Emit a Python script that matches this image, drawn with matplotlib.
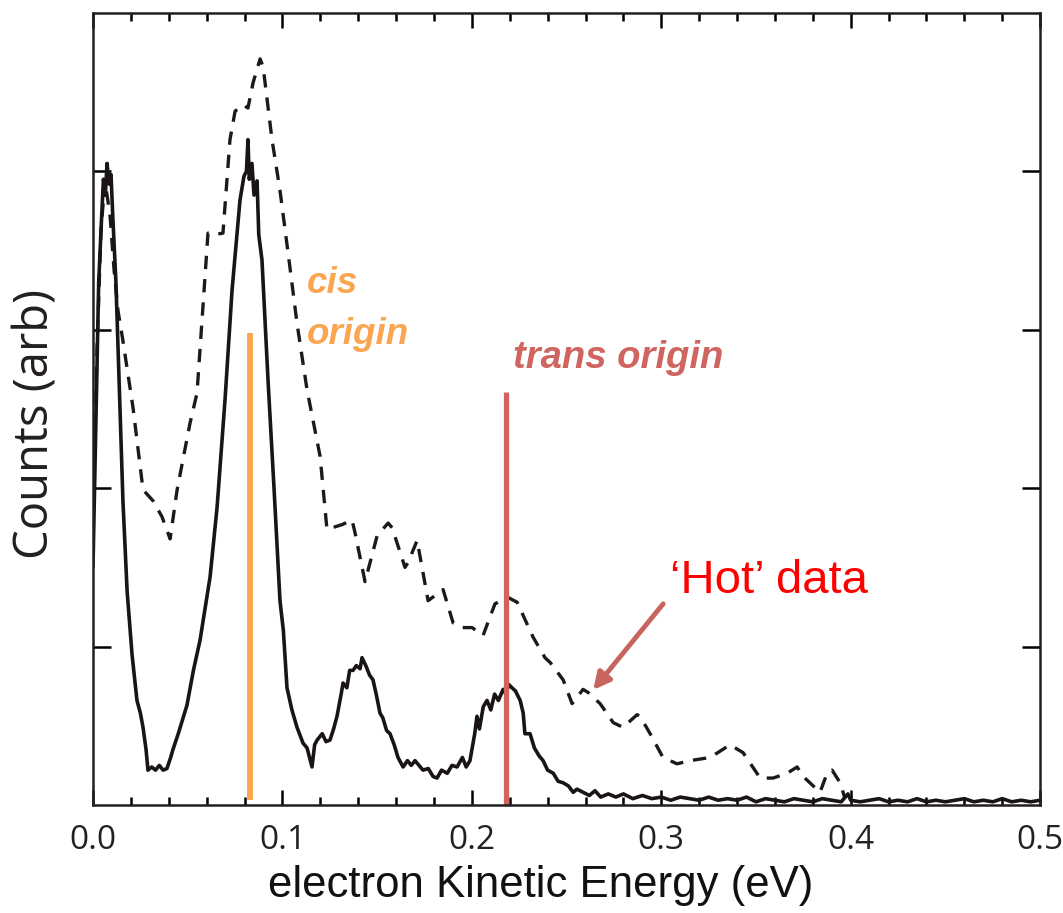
import numpy as np
import matplotlib
matplotlib.use("Agg")
import matplotlib.pyplot as plt

# ---- data ----
# solid trace (cold data)
solid_x = [0.000, 0.002, 0.003, 0.0045, 0.0055, 0.0065, 0.0074, 0.0085, 0.0095, 0.0105,
           0.0121, 0.014, 0.0158, 0.018, 0.0206, 0.0232, 0.025, 0.0264, 0.028, 0.029,
           0.031, 0.033, 0.035, 0.037, 0.039, 0.041, 0.0422, 0.045, 0.0496, 0.053,
           0.0565, 0.0618, 0.0655, 0.0697, 0.0734, 0.0776, 0.0797, 0.081, 0.0818, 0.0825,
           0.0839, 0.085, 0.0866, 0.0875, 0.0892, 0.0924, 0.0956, 0.0987, 0.1005, 0.1024,
           0.105, 0.1077, 0.1109, 0.113, 0.1156, 0.117, 0.1183, 0.121, 0.123, 0.1251,
           0.127, 0.1288, 0.131, 0.132, 0.134, 0.1355, 0.1373, 0.139, 0.141, 0.142,
           0.144, 0.146, 0.1478, 0.1495, 0.1515, 0.153, 0.155, 0.1568, 0.159, 0.161,
           0.1637, 0.166, 0.168, 0.170, 0.1742, 0.177, 0.1795, 0.1816, 0.184, 0.187,
           0.1895, 0.1922, 0.195, 0.197, 0.199, 0.2015, 0.2027, 0.204, 0.206, 0.208,
           0.210, 0.212, 0.214, 0.2165, 0.218, 0.2195, 0.2212, 0.223, 0.2255, 0.2271,
           0.228, 0.2307, 0.233, 0.2355, 0.2376, 0.240, 0.243, 0.2455, 0.2482, 0.251,
           0.2535, 0.2555, 0.2587, 0.262, 0.265, 0.268, 0.272, 0.276, 0.280, 0.285,
           0.290, 0.295, 0.300, 0.305, 0.310, 0.315, 0.320, 0.325, 0.330, 0.335,
           0.340, 0.345, 0.350, 0.355, 0.360, 0.365, 0.370, 0.375, 0.380, 0.385,
           0.390, 0.395, 0.3985, 0.400, 0.405, 0.410, 0.415, 0.420, 0.425, 0.430,
           0.435, 0.440, 0.445, 0.450, 0.455, 0.460, 0.465, 0.470, 0.475, 0.480,
           0.485, 0.490, 0.495, 0.500]
solid_y = [1.51, 2.70, 3.30, 3.70, 3.95, 3.85, 4.05, 3.92, 3.98, 3.70,
           3.30, 2.60, 1.92, 1.35, 0.95, 0.66, 0.58, 0.49, 0.35, 0.22,
           0.24, 0.22, 0.25, 0.22, 0.23, 0.30, 0.35, 0.45, 0.63, 0.85,
           1.04, 1.44, 1.88, 2.56, 3.25, 3.82, 3.97, 4.00, 4.20, 3.95,
           4.05, 3.85, 3.94, 3.60, 3.44, 2.68, 1.99, 1.29, 1.10, 0.74,
           0.60, 0.49, 0.39, 0.36, 0.24, 0.38, 0.41, 0.45, 0.40, 0.41,
           0.48, 0.56, 0.70, 0.77, 0.74, 0.85, 0.85, 0.88, 0.86, 0.93,
           0.88, 0.82, 0.79, 0.70, 0.58, 0.55, 0.47, 0.45, 0.38, 0.30,
           0.24, 0.28, 0.25, 0.28, 0.22, 0.23, 0.18, 0.17, 0.22, 0.20,
           0.25, 0.24, 0.30, 0.24, 0.28, 0.45, 0.56, 0.48, 0.62, 0.66,
           0.60, 0.70, 0.66, 0.73, 0.70, 0.76, 0.74, 0.72, 0.66, 0.58,
           0.45, 0.45, 0.36, 0.31, 0.28, 0.22, 0.20, 0.15, 0.14, 0.12,
           0.08, 0.10, 0.08, 0.06, 0.09, 0.05, 0.07, 0.05, 0.07, 0.04,
           0.06, 0.04, 0.05, 0.03, 0.05, 0.04, 0.03, 0.05, 0.03, 0.04,
           0.03, 0.05, 0.02, 0.04, 0.03, 0.02, 0.04, 0.03, 0.02, 0.04,
           0.03, 0.02, 0.07, 0.03, 0.02, 0.03, 0.04, 0.02, 0.03, 0.02,
           0.04, 0.02, 0.03, 0.02, 0.03, 0.04, 0.02, 0.03, 0.02, 0.04,
           0.02, 0.03, 0.02, 0.03]

# dashed trace ('hot' data)
hot_x = [0.0, 0.0021, 0.0042, 0.0063, 0.009, 0.0111, 0.0132, 0.0158, 0.0211, 0.0264,
         0.0317, 0.0364, 0.0407, 0.0444, 0.0512, 0.0549, 0.0607, 0.0634, 0.0686, 0.0723,
         0.075, 0.0792, 0.0818, 0.0845, 0.0882, 0.0898, 0.0945, 0.0987, 0.104, 0.1077,
         0.113, 0.1199, 0.1235, 0.1315, 0.1367, 0.1383, 0.1436, 0.150, 0.1558, 0.1579,
         0.1647, 0.1663, 0.1711, 0.1769, 0.1848, 0.1901, 0.1948, 0.2001, 0.2059, 0.2122,
         0.2191, 0.2239, 0.2323, 0.2386, 0.2413, 0.2482, 0.2529, 0.2587, 0.2614, 0.2677,
         0.2746, 0.2798, 0.2872, 0.2888, 0.2941, 0.3009, 0.3083, 0.3152, 0.3258, 0.3363,
         0.3432, 0.3522, 0.359, 0.3664, 0.3717, 0.3749, 0.3838, 0.3875, 0.3902, 0.3944,
         0.397]
hot_y = [1.80, 2.87, 3.63, 3.94, 3.72, 3.38, 3.12, 2.93, 2.51, 1.99,
         1.92, 1.82, 1.68, 1.99, 2.41, 2.60, 3.61, 3.60, 3.61, 4.20,
         4.38, 4.42, 4.40, 4.56, 4.71, 4.66, 4.20, 3.88, 3.39, 3.04,
         2.62, 2.20, 1.74, 1.77, 1.80, 1.72, 1.41, 1.70, 1.78, 1.75,
         1.50, 1.53, 1.67, 1.29, 1.36, 1.15, 1.12, 1.12, 1.07, 1.27,
         1.31, 1.28, 1.06, 0.93, 0.90, 0.79, 0.64, 0.73, 0.71, 0.64,
         0.52, 0.49, 0.57, 0.56, 0.45, 0.30, 0.26, 0.28, 0.30, 0.38,
         0.33, 0.17, 0.17, 0.20, 0.24, 0.18, 0.08, 0.20, 0.22, 0.14,
         0.04]

cis_origin = 0.0829
cis_height = 2.98
trans_origin = 0.218
trans_height = 2.61

x_ticks = [0.0, 0.1, 0.2, 0.3, 0.4, 0.5]
x_ticklabels = ["0.0", "0.1", "0.2", "0.3", "0.4", "0.5"]

# ---- figure ----
fig = plt.figure(figsize=(10.63, 9.13), dpi=100)
ax = fig.add_axes([0.0875, 0.1183, 0.891, 0.8675])

ax.plot(hot_x, hot_y, color="#1a1a1a", lw=2.4, dashes=(4.0, 3.0))
ax.plot(solid_x, solid_y, color="#1a1414", lw=2.6)

ax.vlines(cis_origin, 0.03, cis_height, color="#F9A552", lw=4.2)
ax.vlines(trans_origin, 0.0, trans_height, color="#D0655F", lw=3.8)

txt = dict(fontfamily="Liberation Sans", fontweight="bold", fontstyle="italic",
           fontsize=26.5)
ax.text(0.113, 3.23, "cis", color="#F9A552", **txt)
ax.text(0.113, 2.91, "origin", color="#F9A552", **txt)
ax.text(0.2218, 2.76, "trans origin", color="#D0655F", fontsize=27.5,
        fontfamily="Liberation Sans", fontweight="bold", fontstyle="italic")

ax.text(0.3046, 1.34, "\u2018Hot\u2019 data", color="#FF0000",
        fontfamily="Liberation Sans", fontsize=34)
ax.annotate("", xy=(0.264, 0.726), xytext=(0.301, 1.27),
            arrowprops=dict(arrowstyle="-|>,head_length=1.0,head_width=0.5",
                            color="#C8645E", lw=3.5, shrinkA=0, shrinkB=0))

ax.set_xlim(0, 0.5)
ax.set_ylim(0, 5)

ax.set_xticks(x_ticks)
ax.set_xticklabels(x_ticklabels, fontfamily="Open Sans", fontsize=24, color="#222222")
ax.set_xticks(np.arange(0, 0.5, 0.02), minor=True)
ax.set_yticks([1, 2, 3, 4])
ax.set_yticklabels([])

ax.tick_params(axis="x", which="major", direction="in", length=11, width=1.8,
               top=True, pad=14)
ax.tick_params(axis="x", which="minor", direction="in", length=6, width=1.8, top=True)
ax.tick_params(axis="y", which="major", direction="in", length=13, width=1.8,
               right=True)

for s in ax.spines.values():
    s.set_linewidth(1.8)
    s.set_color("#231f20")

fig.text(36 / 1063, 1 - 424 / 913, "Counts (arb)", rotation=90, ha="center",
         va="center", fontfamily="Open Sans", fontsize=34, color="#231f20")
fig.text(541 / 1063, 1 - 885 / 913, "electron Kinetic Energy (eV)", ha="center",
         va="center", fontfamily="Liberation Sans", fontsize=31.5, color="#111111")

fig.savefig("out.png", dpi=100)
